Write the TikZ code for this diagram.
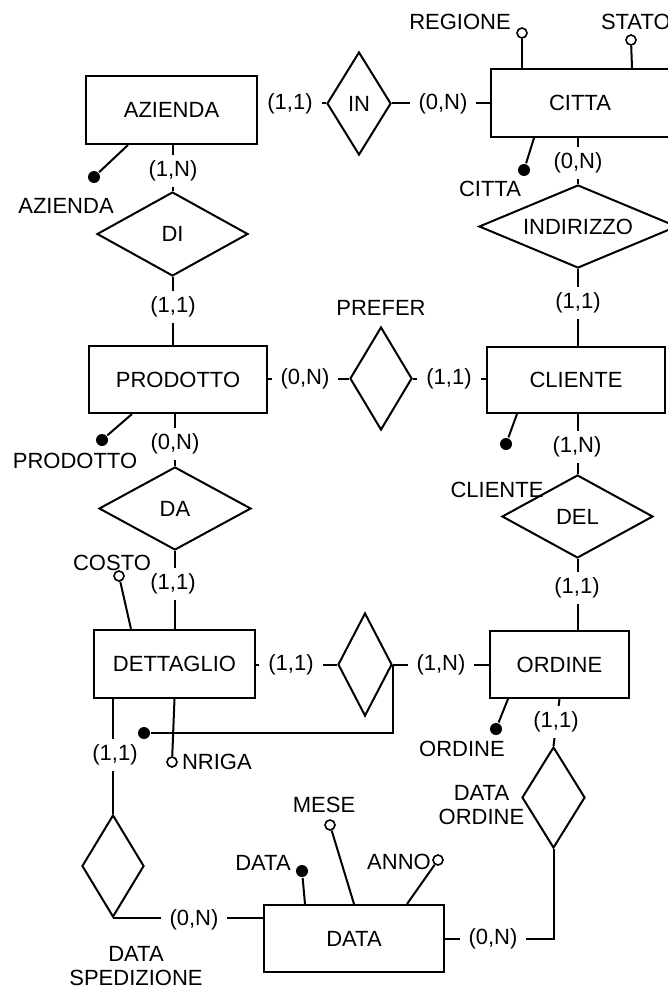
\documentclass[tikz,border=0pt]{standalone}
\usepackage{fontspec}
\setmainfont{Liberation Sans}
\usetikzlibrary{shapes.geometric}
\begin{document}
\begin{tikzpicture}[x=0.5pt,y=-0.5pt,
  every node/.style={font=\fontsize{11}{12}\selectfont},
  line width=1pt,
  ent/.style={draw, rectangle, inner sep=0pt},
  rel/.style={draw, diamond, inner sep=0pt},
  lab/.style={fill=white, inner xsep=4.5pt, inner ysep=3pt},
  att/.style={draw, circle, inner sep=0pt, minimum size=5pt, fill=white, line width=0.8pt},
  idd/.style={fill, circle, inner sep=0pt, minimum size=6pt},
  txt/.style={inner sep=0pt}
]
\useasboundingbox (0,0) rectangle (668,990);

% entities
\node[ent, minimum width=85.5pt, minimum height=34pt] (AZ) at (171.5,110) {AZIENDA};
\node[ent, minimum width=89pt, minimum height=34pt] (CI) at (580,103) {CITTA};
\node[ent, minimum width=89pt, minimum height=33.5pt] (PR) at (178,379.5) {PRODOTTO};
\node[ent, minimum width=89pt, minimum height=33pt] (CL) at (576,380) {CLIENTE};
\node[ent, minimum width=80.5pt, minimum height=34pt] (DE) at (174.5,664) {DETTAGLIO};
\node[ent, minimum width=69.5pt, minimum height=33.5pt] (OR) at (559.5,664.5) {ORDINE};
\node[ent, minimum width=90pt, minimum height=33.5pt] (DT) at (354,938.5) {DATA};

% relationships
\node[rel, minimum width=32pt, minimum height=51.5pt, aspect=0.62] (IN) at (359,103.5) {IN};
\node[rel, minimum width=75.5pt, minimum height=42pt, aspect=1.8] (DI) at (172.5,234) {DI};
\node[rel, minimum width=99pt, minimum height=41.5pt, aspect=2.4] (IND) at (578,226.5) {INDIRIZZO};
\node[rel, minimum width=31pt, minimum height=51.5pt, aspect=0.6] (PF) at (381,378.5) {};
\node[rel, minimum width=76pt, minimum height=41.5pt, aspect=1.83] (DAr) at (175,508.5) {DA};
\node[rel, minimum width=75.5pt, minimum height=41.5pt, aspect=1.82] (DEL) at (577.5,516.5) {DEL};
\node[rel, minimum width=27pt, minimum height=51.5pt, aspect=0.52] (RX) at (365,664.5) {};
\node[rel, minimum width=31pt, minimum height=51pt, aspect=0.6] (DS) at (113,866) {};
\node[rel, minimum width=31.5pt, minimum height=50.5pt, aspect=0.62] (DO) at (553.5,797.5) {};

% connectors
\draw (IN.west) -- (IN.west -| AZ.east);
\draw (IN.east) -- (IN.east -| CI.west);
\draw (DI.north) -- (DI.north |- AZ.south);
\draw (DI.south) -- (DI.south |- PR.north);
\draw (IND.north) -- (IND.north |- CI.south);
\draw (IND.south) -- (IND.south |- CL.north);
\draw (PF.west) -- (PF.west -| PR.east);
\draw (PF.east) -- (PF.east -| CL.west);
\draw (DAr.north) -- (DAr.north |- PR.south);
\draw (DAr.south) -- (DAr.south |- DE.north);
\draw (RX.west) -- (RX.west -| DE.east);
\draw (RX.east) -- (RX.east -| OR.west);
\draw (DEL.north) -- (DEL.north |- CL.south);
\draw (DEL.south) -- (DEL.south |- OR.north);
\draw (OR.south) -- (DO.north);
\draw (DO.south) |- (DT.east);
\draw (DS.north) -- (DS.north |- DE.south);
\draw (DS.south) -- (DS.south -| DT.west);

% external identifier
\node[idd] (EID) at (144,733) {};
\draw (EID) -- (EID -| RX.east) -- (RX.east);

% cardinalities
\node[lab] at (290,103.5) {(1,1)};
\node[lab] at (443,103.5) {(0,N)};
\node[lab] at (173,171) {(1,N)};
\node[lab] at (173,307) {(1,1)};
\node[lab] at (578,163) {(0,N)};
\node[lab] at (578,303) {(1,1)};
\node[lab] at (305,378.5) {(0,N)};
\node[lab] at (449,378.5) {(1,1)};
\node[lab] at (175,444) {(0,N)};
\node[lab] at (173,584) {(1,1)};
\node[lab] at (577,447) {(1,N)};
\node[lab] at (577,588) {(1,1)};
\node[lab] at (291,664.5) {(1,1)};
\node[lab] at (441,664.5) {(1,N)};
\node[lab] at (556,722) {(1,1)};
\node[lab] at (493,938.5) {(0,N)};
\node[lab] at (115,755) {(1,1)};
\node[lab] at (194,920) {(0,N)};

% attributes and identifiers
\node[idd] (AZid) at (94,177) {};
\draw ([xshift=-21.75pt]AZ.south) -- (AZid);
\node[txt] at (66,206) {AZIENDA};

\node[att] (REG) at (522,33) {};
\draw ([xshift=-29pt]CI.north) -- (REG);
\node[txt] at (460,22) {REGIONE};

\node[att] (STA) at (631,40) {};
\draw ([xshift=26pt]CI.north) -- (STA);
\node[txt, anchor=west] at (600,22) {STATO};

\node[idd] (CIid) at (524,170) {};
\draw ([xshift=-23pt]CI.south) -- (CIid);
\node[txt] at (490,189) {CITTA};

\node[idd] (PRid) at (102,440) {};
\draw ([xshift=-23pt]PR.south) -- (PRid);
\node[txt] at (75,461) {PRODOTTO};

\node[idd] (CLid) at (506,444) {};
\draw ([xshift=-29.5pt]CL.south) -- (CLid);
\node[txt] at (497,490) {CLIENTE};

\node[att] (COS) at (119,576) {};
\draw ([xshift=-21.75pt]DE.north) -- (COS);
\node[txt] at (112,563) {COSTO};

\node[att] (NR) at (172,762) {};
\draw (DE.south) -- (NR);
\node[txt, anchor=west] at (181,762) {NRIGA};

\node[idd] (ORid) at (496,729) {};
\draw ([xshift=-25.75pt]OR.south) -- (ORid);
\node[txt] at (462,749) {ORDINE};

\node[idd] (DTid) at (302,871) {};
\draw ([xshift=-24.5pt]DT.north) -- (DTid);
\node[txt] at (263,863) {DATA};

\node[att] (ME) at (330,825) {};
\draw (DT.north) -- (ME);
\node[txt] at (324,805) {MESE};

\node[att] (AN) at (438,860) {};
\draw ([xshift=26.5pt]DT.north) -- (AN);
\node[txt] at (399,862) {ANNO};

\node[txt] at (381,308) {PREFER};
\node[txt, align=center] at (136,966) {DATA\\SPEDIZIONE};
\node[txt, align=center] at (481.5,805.5) {DATA\\ORDINE};
\end{tikzpicture}
\end{document}
